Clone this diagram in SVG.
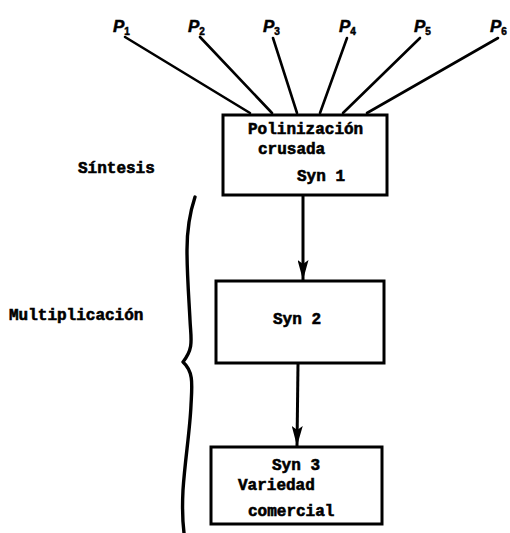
<svg xmlns="http://www.w3.org/2000/svg" width="510" height="533" viewBox="0 0 510 533">
<style>
.t{font-family:"Liberation Mono","DejaVu Sans Mono",monospace;font-weight:bold;font-size:16px;fill:#000;stroke:#000;stroke-width:0.6}
.p{font-family:"Liberation Sans",Arial,sans-serif;font-weight:bold;font-style:italic;font-size:17px;fill:#000;stroke:#000;stroke-width:0.5}
.s{font-size:10px;font-style:normal}
.box{fill:#fff;stroke:#000;stroke-width:3}
.ln{stroke:#000;stroke-width:2.6;fill:none;stroke-linecap:round}
.br{stroke:#000;stroke-width:3.4;fill:none;stroke-linecap:round;stroke-linejoin:round}
.ar{stroke:#000;stroke-width:3;fill:none}
</style>
<defs>
<marker id="ah" markerUnits="userSpaceOnUse" markerWidth="20" markerHeight="11" viewBox="0 0 20 11" refX="20" refY="5.5" orient="auto">
<path d="M0,0 L20,5.5 L0,11 L4,5.5 z" fill="#000"/>
</marker>
</defs>
<g id="labels">
<text class="p" x="113" y="32">P<tspan class="s" dy="3">1</tspan></text>
<text class="p" x="188" y="32">P<tspan class="s" dy="3">2</tspan></text>
<text class="p" x="263" y="32">P<tspan class="s" dy="3">3</tspan></text>
<text class="p" x="339" y="32">P<tspan class="s" dy="3">4</tspan></text>
<text class="p" x="414" y="32">P<tspan class="s" dy="3">5</tspan></text>
<text class="p" x="490" y="32">P<tspan class="s" dy="3">6</tspan></text>
<text class="t" x="78" y="173">Síntesis</text>
<text class="t" x="9" y="320">Multiplicación</text>
</g>
<g id="connectors">
<line class="ln" x1="125" y1="37" x2="250" y2="113"/>
<line class="ln" x1="200" y1="37" x2="272" y2="113"/>
<line class="ln" x1="273" y1="38" x2="297" y2="113"/>
<line class="ln" x1="347" y1="38" x2="320" y2="113"/>
<line class="ln" x1="420" y1="38" x2="343" y2="113"/>
<line class="ln" x1="498" y1="38" x2="367" y2="113"/>
<line class="ar" x1="303" y1="196" x2="303" y2="280" marker-end="url(#ah)"/>
<line class="ar" x1="298" y1="364" x2="297" y2="446" marker-end="url(#ah)"/>
<path class="br" d="M195,197 C189,215 187,230 187,250 C187,275 189,300 190,320 C191,340 194,348 183,362 C194,372 192,385 191,405 C190,430 185,460 183,490 C182,510 183,525 184,533"/>
</g>
<g id="n1">
<rect class="box" x="223" y="115" width="164" height="80"/>
<text class="t" x="248" y="134">Polinización</text>
<text class="t" x="258" y="154">crusada</text>
<text class="t" x="297" y="181">Syn 1</text>
</g>
<g id="n2">
<rect class="box" x="216" y="281" width="168" height="82"/>
<text class="t" x="273" y="324">Syn 2</text>
</g>
<g id="n3">
<rect class="box" x="211" y="447" width="171" height="77"/>
<text class="t" x="272" y="470">Syn 3</text>
<text class="t" x="238" y="490">Variedad</text>
<text class="t" x="248" y="516">comercial</text>
</g>
</svg>
